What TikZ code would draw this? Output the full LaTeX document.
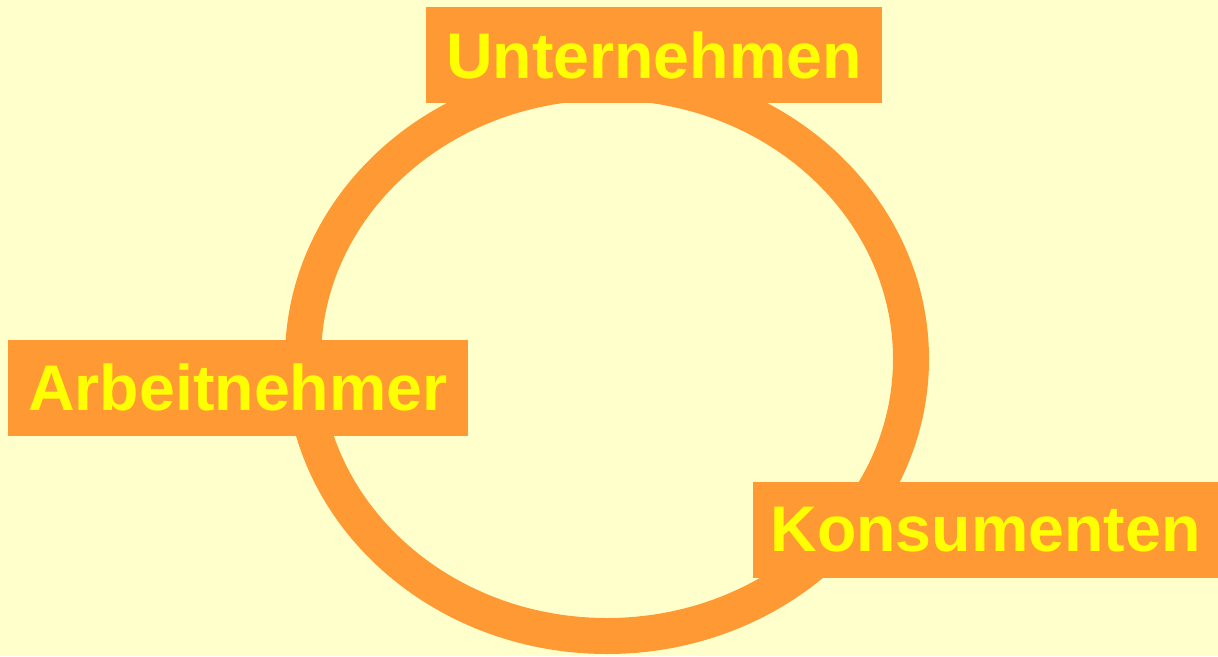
\documentclass[tikz,border=0pt]{standalone}
\usepackage{fontspec}
\setmainfont{Liberation Sans}
\usepackage{tikz}
\definecolor{bgyellow}{RGB}{255,255,204}
\definecolor{boxorange}{RGB}{255,153,51}
\definecolor{textyellow}{RGB}{255,255,0}
\begin{document}
\begin{tikzpicture}[
  x=1pt, y=-1pt,
  every node/.style={fill=boxorange, text=textyellow, inner sep=0pt,
                     font=\fontsize{64.5}{64.5}\selectfont\bfseries,
                     minimum height=96pt}
]
\fill[bgyellow] (0,0) rectangle (1218,656);
\useasboundingbox (0,0) rectangle (1218,656);
\draw[boxorange, line width=36pt] (607,359) ellipse [x radius=304, y radius=277];
\node[minimum width=456pt] (unt) at (654,55)    {Unternehmen};
\node[minimum width=460pt] (arb) at (238,387.5) {Arbeitnehmer};
\node[minimum width=465pt] (kon) at (985.5,530) {Konsumenten};
\end{tikzpicture}
\end{document}
